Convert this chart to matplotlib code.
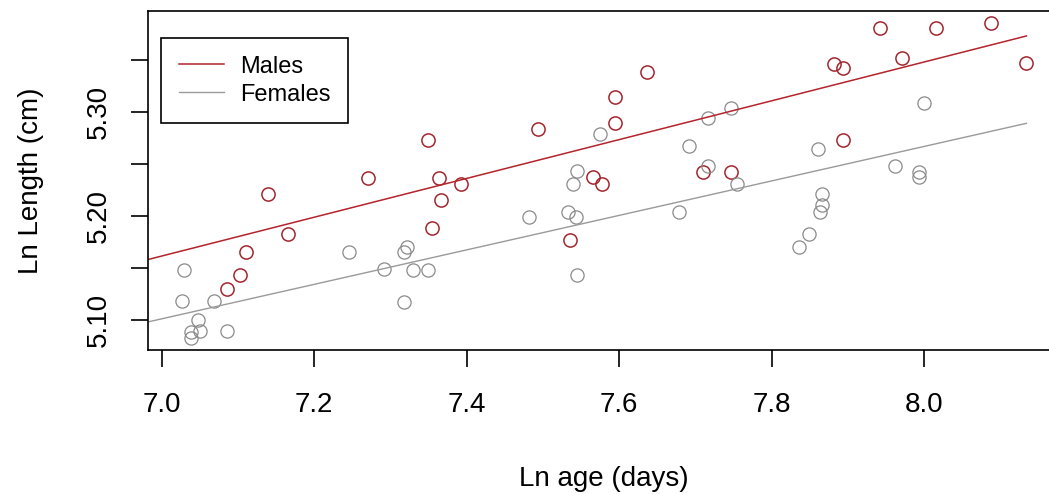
import numpy as np
import matplotlib.pyplot as plt

plt.rcParams['font.family'] = ['Liberation Sans', 'DejaVu Sans']

# ln age (days) / ln length (cm)
male_age = [7.085, 7.102, 7.110, 7.139, 7.165, 7.271, 7.349, 7.363, 7.366, 7.355,
            7.393, 7.493, 7.536, 7.566, 7.577, 7.595, 7.595, 7.637, 7.710, 7.747,
            7.881, 7.894, 7.894, 7.942, 7.971, 8.016, 8.088, 8.134]
male_len = [5.130, 5.1435, 5.165, 5.221, 5.183, 5.236, 5.273, 5.236, 5.215, 5.188,
            5.231, 5.284, 5.177, 5.237, 5.231, 5.314, 5.289, 5.338, 5.242, 5.242,
            5.346, 5.3425, 5.273, 5.381, 5.352, 5.381, 5.385, 5.347]

female_age = [7.029, 7.026, 7.068, 7.048, 7.039, 7.050, 7.038, 7.085, 7.246, 7.292,
              7.318, 7.322, 7.329, 7.349, 7.318, 7.481, 7.533, 7.543, 7.539, 7.544,
              7.575, 7.544, 7.678, 7.692, 7.716, 7.717, 7.747, 7.755, 7.836, 7.849,
              7.863, 7.866, 7.866, 7.861, 7.961, 7.993, 7.993, 8.000]
female_len = [5.148, 5.118, 5.118, 5.100, 5.088, 5.089, 5.083, 5.089, 5.165, 5.149,
              5.165, 5.1705, 5.148, 5.148, 5.117, 5.1985, 5.204, 5.1985, 5.231, 5.243,
              5.279, 5.1435, 5.204, 5.267, 5.294, 5.248, 5.304, 5.231, 5.170, 5.183,
              5.204, 5.210, 5.221, 5.264, 5.248, 5.242, 5.237, 5.309]

# fitted lines (end points)
fit_age = [6.982, 8.134]
male_fit = [5.158, 5.373]
female_fit = [5.098, 5.289]

xticks = [7.0, 7.2, 7.4, 7.6, 7.8, 8.0]
yticks = [5.10, 5.15, 5.20, 5.25, 5.30, 5.35]
ylabels = ['5.10', '', '5.20', '', '5.30', '']

red = '#B3242C'
red_pt = '#A3262E'
grey = '#9A9A9A'
grey_pt = '#8A8A8A'

fig = plt.figure(figsize=(10.49, 4.94), dpi=100)
ax = fig.add_axes([148/1049, 144/494, 912/1049, 339/494])

ax.plot(male_age, male_len, 'o', mfc='none', mec=red_pt, ms=9.5, mew=1.1)
ax.plot(female_age, female_len, 'o', mfc='none', mec=grey_pt, ms=9.5, mew=0.9)
ax.plot(fit_age, male_fit, color=red, lw=1.1, label='Males')
ax.plot(fit_age, female_fit, color=grey, lw=1.0, label='Females')

ax.set_xlim(6.982, 8.178)
ax.set_ylim(5.071, 5.397)
ax.set_xticks(xticks)
ax.set_xticklabels(['%.1f' % t for t in xticks])
ax.set_yticks(yticks)
ax.set_yticklabels(ylabels, rotation=90, va='center')
ax.tick_params(labelsize=20, length=12, width=1.2)
ax.tick_params(axis='x', pad=18.5)
ax.tick_params(axis='y', pad=14)
for s in ax.spines.values():
    s.set_linewidth(1.2)

ax.set_xlabel('Ln age (days)', fontsize=20, labelpad=34)
ax.set_ylabel('Ln Length (cm)', fontsize=20, labelpad=30)

leg = ax.legend(loc='upper left', bbox_to_anchor=(13/912, 1 - 27/339), borderaxespad=0,
                fontsize=17, handlelength=1.9, handletextpad=0.7, labelspacing=0.25,
                fancybox=False, edgecolor='black', framealpha=1, borderpad=0.75)
leg.get_frame().set_linewidth(1.2)

fig.savefig('out.png', dpi=100)
